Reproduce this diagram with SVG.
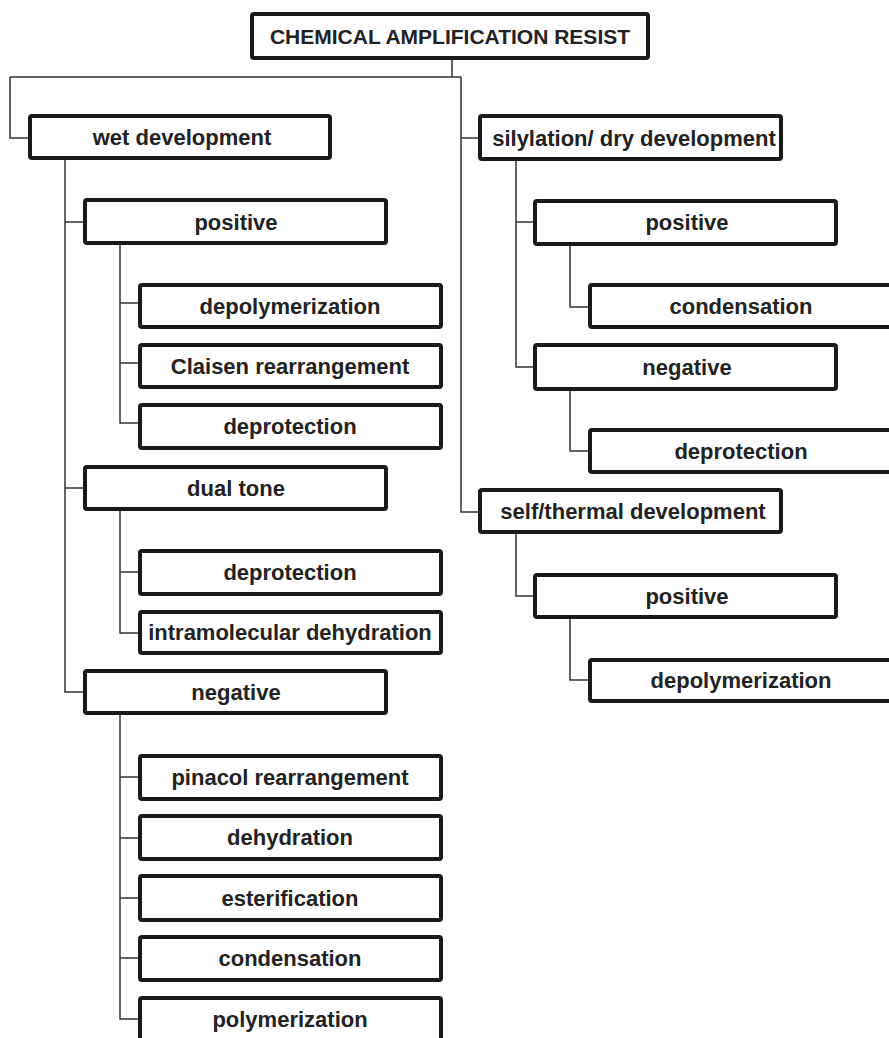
<svg xmlns="http://www.w3.org/2000/svg" width="889" height="1038" viewBox="0 0 889 1038">
<style>
.box{fill:#fff;stroke:#1a1a1a;stroke-width:4;}
.t{font-family:"Liberation Sans",Arial,sans-serif;font-weight:bold;font-size:22px;fill:#222;text-anchor:middle;}
.conn{fill:none;stroke:#333;stroke-width:1.5;}
</style>
<rect width="889" height="1038" fill="#fff"/>
<g id="connectors" class="conn">
<path d="M452,60V77M10,77H461M10,77V138H28M461,77V512H478M461,138H478"/>
<path d="M65,160V692H83M65,222H83M65,488H83"/>
<path d="M120,245V423H138M120,303H138M120,363H138"/>
<path d="M120,511V633H138M120,572H138"/>
<path d="M120,715V1019H138M120,777H138M120,838H138M120,898H138M120,958H138"/>
<path d="M516,161V367H533M516,222H533"/>
<path d="M570,246V307H588"/>
<path d="M570,391V451H588"/>
<path d="M516,534V596H533"/>
<path d="M570,619V680H588"/>
</g>
<g id="n-root"><rect class="box" x="252" y="14" width="396" height="44" rx="2"/><text class="t" x="450" y="44" style="font-weight:bold;font-size:21px">CHEMICAL AMPLIFICATION RESIST</text></g>
<g id="n-wet"><rect class="box" x="30" y="116" width="300" height="42" rx="2"/><text class="t" x="182" y="145">wet development</text></g>
<g id="n-wet-pos"><rect class="box" x="85" y="200" width="301" height="43" rx="2"/><text class="t" x="236" y="230">positive</text></g>
<g id="n-wet-pos-depoly"><rect class="box" x="140" y="285" width="301" height="42" rx="2"/><text class="t" x="290" y="314">depolymerization</text></g>
<g id="n-wet-pos-claisen"><rect class="box" x="140" y="345" width="301" height="42" rx="2"/><text class="t" x="290" y="374">Claisen rearrangement</text></g>
<g id="n-wet-pos-deprot"><rect class="box" x="140" y="405" width="301" height="43" rx="2"/><text class="t" x="290" y="434">deprotection</text></g>
<g id="n-wet-dual"><rect class="box" x="85" y="467" width="301" height="42" rx="2"/><text class="t" x="236" y="496">dual tone</text></g>
<g id="n-wet-dual-deprot"><rect class="box" x="140" y="551" width="301" height="43" rx="2"/><text class="t" x="290" y="580">deprotection</text></g>
<g id="n-wet-dual-intra"><rect class="box" x="140" y="612" width="301" height="41" rx="2"/><text class="t" x="290" y="640">intramolecular dehydration</text></g>
<g id="n-wet-neg"><rect class="box" x="85" y="671" width="301" height="42" rx="2"/><text class="t" x="236" y="700">negative</text></g>
<g id="n-wet-neg-pinacol"><rect class="box" x="140" y="756" width="301" height="43" rx="2"/><text class="t" x="290" y="785">pinacol rearrangement</text></g>
<g id="n-wet-neg-dehyd"><rect class="box" x="140" y="816" width="301" height="43" rx="2"/><text class="t" x="290" y="845">dehydration</text></g>
<g id="n-wet-neg-ester"><rect class="box" x="140" y="876" width="301" height="44" rx="2"/><text class="t" x="290" y="906">esterification</text></g>
<g id="n-wet-neg-cond"><rect class="box" x="140" y="937" width="301" height="43" rx="2"/><text class="t" x="290" y="966">condensation</text></g>
<g id="n-wet-neg-poly"><rect class="box" x="140" y="998" width="301" height="43" rx="2"/><text class="t" x="290" y="1027">polymerization</text></g>
<g id="n-dry"><rect class="box" x="480" y="116" width="301" height="43" rx="2"/><text class="t" x="634" y="146">silylation/ dry development</text></g>
<g id="n-dry-pos"><rect class="box" x="535" y="201" width="301" height="43" rx="2"/><text class="t" x="687" y="230">positive</text></g>
<g id="n-dry-pos-cond"><rect class="box" x="590" y="285" width="303" height="42" rx="2"/><text class="t" x="741" y="314">condensation</text></g>
<g id="n-dry-neg"><rect class="box" x="535" y="345" width="301" height="44" rx="2"/><text class="t" x="687" y="375">negative</text></g>
<g id="n-dry-neg-deprot"><rect class="box" x="590" y="430" width="303" height="42" rx="2"/><text class="t" x="741" y="459">deprotection</text></g>
<g id="n-self"><rect class="box" x="480" y="490" width="301" height="42" rx="2"/><text class="t" x="633" y="519">self/thermal development</text></g>
<g id="n-self-pos"><rect class="box" x="535" y="575" width="301" height="42" rx="2"/><text class="t" x="687" y="604">positive</text></g>
<g id="n-self-pos-depoly"><rect class="box" x="590" y="660" width="303" height="41" rx="2"/><text class="t" x="741" y="688">depolymerization</text></g>
</svg>
